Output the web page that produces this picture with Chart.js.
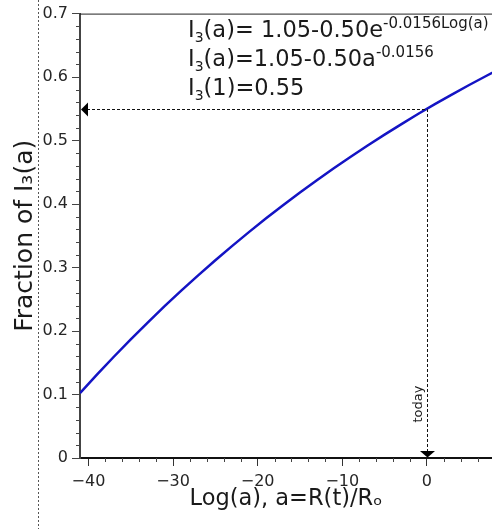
<!DOCTYPE html>
<html>
<head>
<meta charset="utf-8">
<script src="https://cdn.jsdelivr.net/npm/chart.js@4.4.1/dist/chart.umd.min.js"></script>
<style>
  html, body { margin: 0; padding: 0; background: #fff; }
  #wrap { position: relative; width: 492px; height: 529px; overflow: hidden; font-family: 'DejaVu Sans', sans-serif; }
  #c { position: absolute; left: 0; top: 0; }
  .ann { position: absolute; left: 188px; font-size: 22.5px; line-height: 22px; color: #1a1a1a; white-space: nowrap; }
  .sub { position: relative; top: 5px; font-size: 14px; }
  .sup { position: relative; top: -9px; font-size: 15px; }
</style>
</head>
<body>
<div id="wrap">
  <canvas id="c" width="492" height="529"></canvas>
  <div class="ann" style="top:18px">I<span class="sub">3</span>(a)= 1.05-0.50e<span class="sup">-0.0156Log(a)</span></div>
  <div class="ann" style="top:47px">I<span class="sub">3</span>(a)=1.05-0.50a<span class="sup">-0.0156</span></div>
  <div class="ann" style="top:76px">I<span class="sub">3</span>(1)=0.55</div>
</div>
<script>
// ---- data ----
const logA = [-41, -39, -37, -35, -33, -31, -29, -27, -25, -23, -21, -19, -17, -15, -13, -11, -9, -7, -5, -3, -1, 1, 3, 5, 7, 9];
const fractionI3 = [0.1022, 0.1312, 0.1595, 0.1869, 0.2134, 0.2391, 0.2640, 0.2881, 0.3115, 0.3342, 0.3562, 0.3775, 0.3982, 0.4182, 0.4376, 0.4564, 0.4746, 0.4923, 0.5094, 0.5260, 0.5422, 0.5577, 0.5729, 0.5875, 0.6017, 0.6155];
const xTicks = [-40, -30, -20, -10, 0];
const yTicks = [0, 0.1, 0.2, 0.3, 0.4, 0.5, 0.6, 0.7];
const xMinorTicks = [-38, -36, -34, -32, -28, -26, -24, -22, -18, -16, -14, -12, -8, -6, -4, -2, 2, 4, 6];
const yMinorTicks = [0.02, 0.04, 0.06, 0.08, 0.12, 0.14, 0.16, 0.18, 0.22, 0.24, 0.26, 0.28, 0.32, 0.34, 0.36, 0.38, 0.42, 0.44, 0.46, 0.48, 0.52, 0.54, 0.56, 0.58, 0.62, 0.64, 0.66, 0.68];
const todayLogA = [0];
const todayFraction = [0.55];
const xRange = [-41, 7.7];
const yRange = [0, 0.7];

const FONT = "'DejaVu Sans', sans-serif";
const fmtX = v => (v < 0 ? '\u2212' + Math.abs(v) : String(v));
const fmtY = v => (v === 0 ? '0' : v.toFixed(1));

const decor = {
  id: 'decor',
  afterDraw(chart) {
    const ctx = chart.ctx, a = chart.chartArea;
    const xs = chart.scales.x, ys = chart.scales.y;
    ctx.save();
    // page guide (dotted) at left
    ctx.strokeStyle = '#555';
    ctx.lineWidth = 1;
    ctx.setLineDash([2, 2]);
    ctx.beginPath(); ctx.moveTo(38.5, 0); ctx.lineTo(38.5, chart.height); ctx.stroke();
    ctx.setLineDash([]);
    // top spine
    ctx.strokeStyle = '#222';
    ctx.beginPath(); ctx.moveTo(a.left, a.top + 0.5); ctx.lineTo(a.right, a.top + 0.5); ctx.stroke();
    // minor ticks
    ctx.strokeStyle = '#444';
    ctx.lineWidth = 1;
    yMinorTicks.forEach(v => {
      const p = Math.round(ys.getPixelForValue(v)) + 0.5;
      ctx.beginPath(); ctx.moveTo(a.left - 4, p); ctx.lineTo(a.left, p); ctx.stroke();
    });
    xMinorTicks.forEach(v => {
      const p = Math.round(xs.getPixelForValue(v)) + 0.5;
      ctx.beginPath(); ctx.moveTo(p, a.bottom); ctx.lineTo(p, a.bottom + 4); ctx.stroke();
    });
    // today guide lines
    const tx = Math.round(xs.getPixelForValue(todayLogA[0])) + 0.5;
    const ty = Math.round(ys.getPixelForValue(todayFraction[0])) + 0.5;
    const by = ys.getPixelForValue(0);
    ctx.strokeStyle = '#111';
    ctx.setLineDash([3, 2]);
    ctx.beginPath(); ctx.moveTo(a.left + 7, ty); ctx.lineTo(tx, ty); ctx.lineTo(tx, by - 6); ctx.stroke();
    ctx.setLineDash([]);
    ctx.fillStyle = '#000';
    // left arrow
    ctx.beginPath(); ctx.moveTo(a.left + 1, ty); ctx.lineTo(a.left + 8, ty - 7); ctx.lineTo(a.left + 8, ty + 7); ctx.closePath(); ctx.fill();
    // down arrow
    ctx.beginPath(); ctx.moveTo(tx, by - 0.5); ctx.lineTo(tx - 7.5, by - 7); ctx.lineTo(tx + 7.5, by - 7); ctx.closePath(); ctx.fill();
    // today label
    ctx.save();
    ctx.translate(tx - 9, by - 54);
    ctx.rotate(-Math.PI / 2);
    ctx.font = '13px ' + FONT;
    ctx.fillStyle = '#1a1a1a';
    ctx.textAlign = 'center';
    ctx.textBaseline = 'middle';
    ctx.fillText('today', 0, 0);
    ctx.restore();
    ctx.restore();
  }
};

new Chart(document.getElementById('c'), {
  type: 'line',
  data: {
    datasets: [{
      data: logA.map((x, i) => ({ x: x, y: fractionI3[i] })),
      borderColor: '#1414c4',
      borderWidth: 2.5,
      borderJoinStyle: 'round',
      pointRadius: 0,
      fill: false,
      tension: 0
    }]
  },
  options: {
    responsive: false,
    animation: false,
    devicePixelRatio: 1,
    layout: { padding: { top: 12, right: 0, left: 0, bottom: 0 } },
    plugins: { legend: { display: false }, tooltip: { enabled: false } },
    scales: {
      x: {
        type: 'linear',
        min: xRange[0], max: xRange[1],
        afterBuildTicks: s => { s.ticks = xTicks.map(v => ({ value: v })); },
        afterFit: s => { s.height = 71; },
        ticks: { callback: v => fmtX(v), color: '#262626', font: { family: FONT, size: 16 }, padding: 6, maxRotation: 0, autoSkip: false },
        grid: { drawOnChartArea: false, drawTicks: true, tickLength: 8, tickColor: '#333', tickWidth: 1 },
        border: { display: true, color: '#111', width: 2 },
        title: { display: true, text: 'Log(a), a=R(t)/R\u2092', color: '#1a1a1a', font: { family: FONT, size: 22.5 }, padding: { top: 0, bottom: 16 } }
      },
      y: {
        type: 'linear',
        min: yRange[0], max: yRange[1],
        afterBuildTicks: s => { s.ticks = yTicks.map(v => ({ value: v })); },
        afterFit: s => { s.width = 80; },
        ticks: { callback: v => fmtY(v), color: '#262626', font: { family: FONT, size: 16 }, padding: 4, autoSkip: false },
        grid: { drawOnChartArea: false, drawTicks: true, tickLength: 8, tickColor: '#444', tickWidth: 1 },
        border: { display: true, color: '#444', width: 2 },
        title: { display: true, text: 'Fraction of I\u2083(a)', color: '#1a1a1a', font: { family: FONT, size: 25 }, padding: { top: 10, bottom: 0 } }
      }
    }
  },
  plugins: [decor]
});
</script>
</body>
</html>
